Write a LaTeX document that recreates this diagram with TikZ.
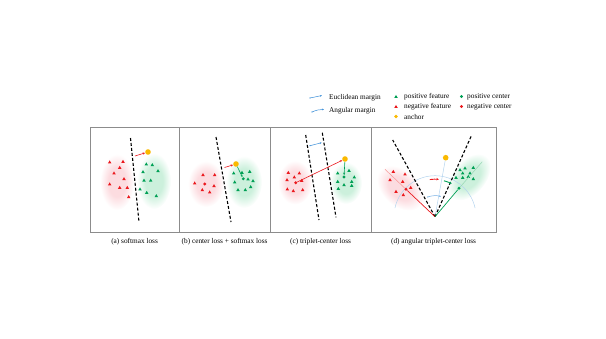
\documentclass[tikz,border=0pt]{standalone}
\usepackage{fontspec}
\setmainfont{Liberation Serif}
\usetikzlibrary{arrows.meta,calc}
\definecolor{tred}{RGB}{235,25,30}
\definecolor{tgreen}{RGB}{0,160,85}
\definecolor{anch}{RGB}{250,185,0}
\definecolor{mblue}{RGB}{55,140,215}
\definecolor{lblue}{RGB}{180,212,238}
\definecolor{lred}{RGB}{248,150,150}
\definecolor{lgreen}{RGB}{150,215,180}
\definecolor{pinkf}{RGB}{252,220,224}
\definecolor{greenf}{RGB}{204,240,220}
\definecolor{boxg}{RGB}{140,140,140}
\pgfdeclareradialshading{pinkblob}{\pgfpointorigin}{color(0bp)=(pinkf); color(13bp)=(pinkf); color(25bp)=(white); color(50bp)=(white)}
\pgfdeclareradialshading{greenblob}{\pgfpointorigin}{color(0bp)=(greenf); color(13bp)=(greenf); color(25bp)=(white); color(50bp)=(white)}
\newcommand{\trimark}[3]{\fill[#1] (#2,#3) +(0,-1.9) -- +(1.75,1.1) -- +(-1.75,1.1) -- cycle;}
\begin{document}
\begin{tikzpicture}[x=1pt,y=-1pt,font=\fontsize{7.3}{8.5}\selectfont,
  cdot/.style={circle,inner sep=0pt,minimum size=3.2pt},
  adot/.style={circle,inner sep=0pt,minimum size=5.6pt,fill=anch},
  sepline/.style={black,line width=1.1pt,dash pattern=on 3pt off 2pt},
  arrtip/.style={-{Stealth[length=2.4pt,width=2pt]}},
  lbl/.style={anchor=west,inner sep=0pt},
  captxt/.style={inner sep=0pt}]
\useasboundingbox (0,0) rectangle (606,338);

% ---------- blobs ----------
\path[shading=pinkblob] (117,182) ellipse (17pt and 28pt);
\path[shading=greenblob] (154,181) ellipse (17pt and 28pt);
\path[shading=pinkblob] (206,184) ellipse (18pt and 23pt);
\path[shading=greenblob] (244,182) ellipse (18pt and 26pt);
\path[shading=pinkblob] (295,182.5) ellipse (17pt and 22pt);
\path[shading=greenblob] (346,183) ellipse (16pt and 21pt);
\begin{scope}[transform canvas={rotate around={-43:(400,188)}}]
\path[shading=pinkblob] (400,188) ellipse (27pt and 18pt);
\end{scope}
\begin{scope}[transform canvas={rotate around={50:(469,177)}}]
\path[shading=greenblob] (469,177) ellipse (27pt and 17pt);
\end{scope}

% ---------- frame ----------
\draw[boxg,line width=0.8pt] (90,127) rectangle (496,232);
\draw[boxg,line width=0.8pt] (179.3,127) -- (179.3,232);
\draw[boxg,line width=0.8pt] (270,127) -- (270,232);
\draw[boxg,line width=0.8pt] (371.3,127) -- (371.3,232);

% ---------- panel a ----------
\foreach \x/\y in {109.7/162.3,123/161.7,119.7/167.7,114/173.3,124/179,109.7/184.3,119.7/187.7,127.3/187.7,128.7/197}
  {\trimark{tred}{\x}{\y}}
\foreach \x/\y in {146.3/164.3,152.3/165,158/171,143/172,144/180.5,150.7/180.5,140/189.3,146.7/192.7,156.3/196}
  {\trimark{tgreen}{\x}{\y}}
\coordinate (sa1) at (130.5,138);
\coordinate (sa2) at (139,222);
\draw[sepline] (sa1) -- (sa2);
\node[adot] (ancA) at (148,152) {};
\coordinate (ma) at (135,156);
\draw[tred,line width=0.6pt,arrtip] (ma) -- (ancA);

% ---------- panel b ----------
\foreach \x/\y in {203/175,214.7/175,194.7/183.3,214/186,202.3/190,209.7/192.3}
  {\trimark{tred}{\x}{\y}}
\foreach \x/\y in {233.7/173.3,242/172.7,249.7/171.7,234.7/182.3,248/179.3,253/181,250.7/187,238/190,245.3/190}
  {\trimark{tgreen}{\x}{\y}}
\node[cdot,fill=tred] (rcB) at (204.7,184) {};
\node[cdot,fill=tgreen] (gcB) at (243.3,178.8) {};
\coordinate (sb1) at (216,137);
\coordinate (sb2) at (231,222);
\draw[sepline] (sb1) -- (sb2);
\node[adot] (ancB) at (236,164) {};
\coordinate (mb) at (224.5,167.5);
\draw[tred,line width=0.6pt,arrtip] (mb) -- (ancB);
\draw[tgreen,line width=0.6pt,arrtip] (ancB) -- (gcB);

% ---------- panel c ----------
\foreach \x/\y in {288.3/172.7,294.3/177.3,299.3/173.3,287/180,301.7/180.7,287.3/189.3,293.3/191,302.7/190}
  {\trimark{tred}{\x}{\y}}
\foreach \x/\y in {337.7/173.3,349/170.7,337.7/181.7,351.7/181.7,354.3/177.3,344/185,351.7/185.7,338.3/188.7}
  {\trimark{tgreen}{\x}{\y}}
\node[cdot,fill=tred] (rcC) at (295.7,182.7) {};
\node[cdot,fill=tgreen] (gcC) at (344,177) {};
\coordinate (sc1) at (305.7,135);
\coordinate (sc2) at (319,220);
\coordinate (sc3) at (322.3,132.7);
\coordinate (sc4) at (336,217.3);
\draw[sepline] (sc1) -- (sc2);
\draw[sepline] (sc3) -- (sc4);
\node[adot] (ancC) at (345,159) {};
\draw[tred,line width=0.6pt,arrtip] (rcC) -- (ancC);
\draw[tgreen,line width=0.6pt,arrtip] (ancC) -- (gcC);
\coordinate (ec1) at (310,145.7);
\coordinate (ec2) at (321.7,142.7);
\draw[mblue,line width=0.5pt,-{Stealth[length=2pt,width=1.7pt]}] (ec1) -- (ec2);
\fill[mblue] (ec1) circle (0.7pt);

% ---------- panel d ----------
\coordinate (V) at (435,216.7);
\coordinate (dl) at (392.7,140);
\coordinate (dr) at (471.7,135);
\coordinate (redx) at (385,169.3);
\coordinate (grnx) at (482.3,161.7);
\draw[lblue,line width=0.5pt] ([shift={(168:41pt)}]V) arc (168:12:41pt);
\foreach \x/\y in {393.3/171.7,405/174.3,390/180,402.7/181.7,410.7/187.7,396/191.7,403.3/195}
  {\trimark{tred}{\x}{\y}}
\foreach \x/\y in {460/170,465/168.3,473.3/167.7,456/177.7,462.7/177.7,468.3/176.7,462.7/173.3,470/173.3,473.3/179}
  {\trimark{tgreen}{\x}{\y}}
\node[cdot,fill=tred] (rcD) at (406,189.3) {};
\node[cdot,fill=tgreen] (gcD) at (459,188.3) {};
\node[adot] (ancD) at (445.7,157.7) {};
\draw[lred,line width=0.5pt] (rcD) -- (redx);
\draw[lgreen,line width=0.5pt] (gcD) -- (grnx);
\draw[lblue,line width=0.5pt] (V) -- (ancD);
\draw[sepline] (V) -- (dl);
\draw[sepline] (V) -- (dr);
\draw[tred,line width=0.7pt] (V) -- (rcD);
\draw[tgreen,line width=0.7pt] (V) -- (gcD);
\draw[tred,line width=0.9pt,-{Stealth[length=2.6pt,width=2.4pt]}] ([shift={(98:37.5pt)}]V) arc (98:84:37.5pt);
\draw[tgreen,line width=0.9pt,-{Stealth[length=2.6pt,width=2.4pt]}] ([shift={(76:37pt)}]V) arc (76:63:37pt);
\draw[mblue!70,line width=0.5pt,-{Stealth[length=2pt,width=1.7pt]}] ([shift={(110:21pt)}]V) arc (110:73:21pt);
\fill[mblue!70] ([shift={(110:21pt)}]V) circle (0.7pt);

% ---------- legend ----------
\coordinate (le1) at (310,98);
\coordinate (le2) at (322,95.5);
\draw[mblue,line width=0.5pt,-{Stealth[length=2pt,width=1.7pt]}] (le1) -- (le2);
\fill[mblue] (le1) circle (0.7pt);
\coordinate (la1) at (312,112);
\coordinate (la2) at (324,109.5);
\draw[mblue,line width=0.5pt,-{Stealth[length=2pt,width=1.7pt]}] (la1) to[bend left=12] (la2);
\fill[mblue] (la1) circle (0.7pt);
\node[lbl] (tEuc) at (329,97.5) {Euclidean margin};
\node[lbl] (tAng) at (329,110.5) {Angular margin};
\trimark{tgreen}{396}{96.8}
\trimark{tred}{396}{106.8}
\node[adot,minimum size=3.6pt] (lanc) at (396,116.5) {};
\node[lbl] (tpf) at (404,96.5) {positive feature};
\node[lbl] (tnf) at (404,106.5) {negative feature};
\node[lbl] (tan) at (404,116.5) {anchor};
\node[cdot,fill=tgreen] (lpc) at (461.5,96.5) {};
\node[cdot,fill=tred] (lnc) at (461.5,106.5) {};
\node[lbl] (tpc) at (467,96.5) {positive center};
\node[lbl] (tnc) at (467,106.5) {negative center};

% ---------- captions ----------
\node[captxt] (capa) at (134.6,242) {(a) softmax loss};
\node[captxt] (capb) at (224.6,242) {(b) center loss + softmax loss};
\node[captxt] (capc) at (320.6,242) {(c) triplet-center loss};
\node[captxt] (capd) at (433.6,242) {(d) angular triplet-center loss};
\end{tikzpicture}
\end{document}
